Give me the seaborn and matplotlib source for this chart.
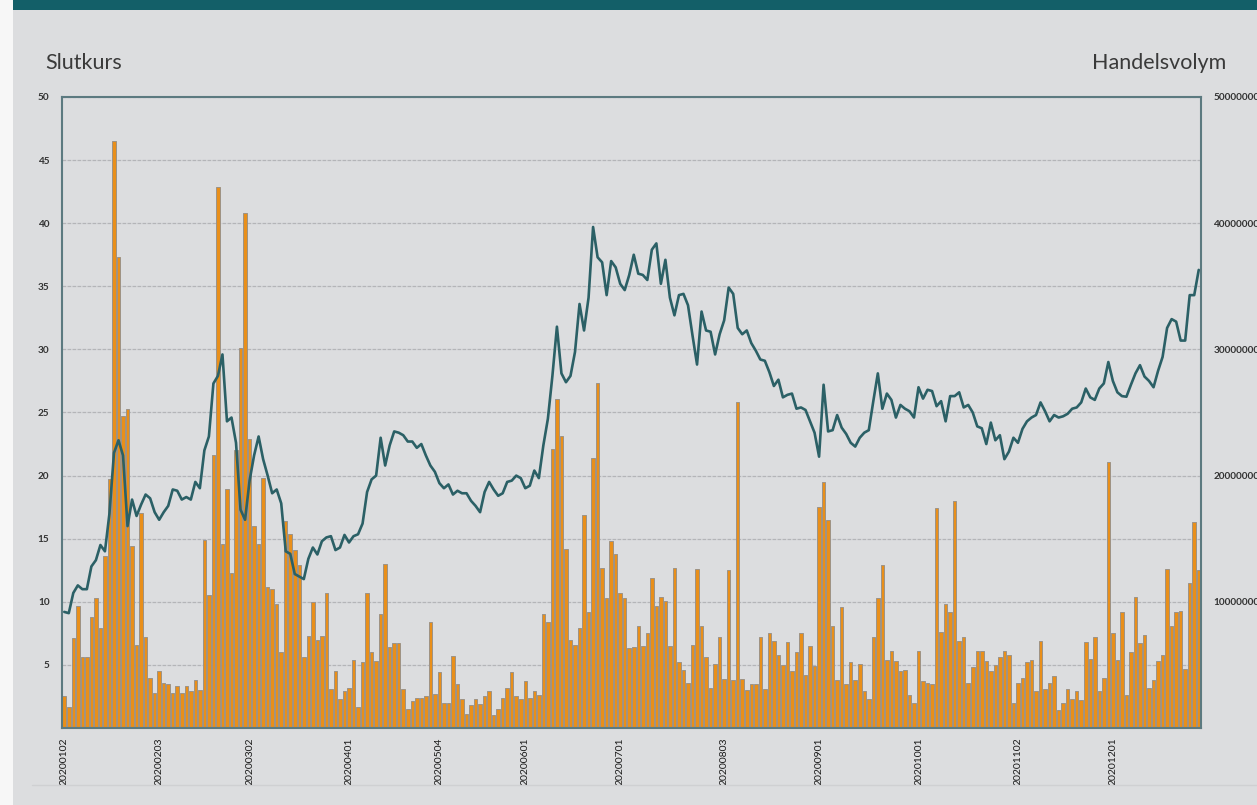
import numpy as np
import pandas as pd
import seaborn as sns
import matplotlib.pyplot as plt
from matplotlib.patches import Rectangle
from matplotlib.lines import Line2D
from matplotlib.ticker import FuncFormatter

# ==[ Data ]==============================================================
# Trading days 2020 (Stockholm), weekdays minus exchange holidays
helgdagar = ["2020-01-01", "2020-01-06", "2020-04-10", "2020-04-13", "2020-05-01",
             "2020-05-21", "2020-06-19", "2020-12-24", "2020-12-25", "2020-12-31"]
dagar = pd.bdate_range("2020-01-01", "2020-12-31").drop(pd.to_datetime(helgdagar))

# closing price, one value per trading day, month by month
slutkurs = (
    [9.2, 9.1, 10.7, 11.3, 11.0, 11.0, 12.8, 13.3, 14.5, 14.0, 17.0, 21.8, 22.8, 21.6, 16.0,
     18.1, 16.8, 17.7, 18.5, 18.2, 17.1]
    + [16.5, 17.1, 17.6, 18.9, 18.8, 18.1, 18.3, 18.1, 19.5, 19.0, 22.0, 23.1, 27.3, 27.9,
       29.6, 24.3, 24.6, 22.6, 17.3, 16.5]
    + [19.6, 21.6, 23.1, 21.3, 20.0, 18.6, 18.9, 17.8, 14.0, 13.8, 12.2, 12.0, 11.8, 13.4,
       14.3, 13.75, 14.8, 15.1, 15.2, 14.1, 14.3, 15.3]
    + [14.7, 15.2, 15.35, 16.2, 18.7, 19.7, 20.0, 23.0, 20.8, 22.4, 23.5, 23.4, 23.2, 22.7,
       22.7, 22.2, 22.5, 21.6, 20.8, 20.3]
    + [19.4, 19.0, 19.3, 18.5, 18.8, 18.6, 18.6, 18.0, 17.6, 17.1, 18.7, 19.5, 18.9, 18.4,
       18.6, 19.5, 19.6, 20.0, 19.8]
    + [19.0, 19.2, 20.4, 19.8, 22.4, 24.5, 27.9, 31.8, 28.1, 27.4, 27.9, 29.8, 33.6, 31.5,
       34.1, 39.7, 37.3, 36.9, 34.3, 37.0, 36.5]
    + [35.2, 34.7, 35.9, 37.5, 36.0, 35.9, 35.5, 37.9, 38.4, 35.2, 37.1, 34.1, 32.7, 34.3,
       34.4, 33.5, 31.1, 28.8, 33.0, 31.5, 31.4, 29.6, 31.2]
    + [32.3, 34.9, 34.4, 31.7, 31.2, 31.5, 30.5, 29.9, 29.2, 29.1, 28.2, 27.1, 27.6, 26.2,
       26.4, 26.5, 25.3, 25.4, 25.2, 24.3, 23.4]
    + [21.5, 27.2, 23.5, 23.6, 24.8, 23.8, 23.3, 22.6, 22.3, 23.0, 23.4, 23.6, 25.9, 28.1,
       25.3, 26.5, 26.0, 24.6, 25.6, 25.3, 25.1, 24.6]
    + [27.0, 26.1, 26.8, 26.7, 25.5, 25.9, 24.3, 26.3, 26.3, 26.6, 25.4, 25.6, 25.0, 23.9,
       23.75, 22.5, 24.2, 22.8, 23.2, 21.3, 21.9, 23.0]
    + [22.6, 23.7, 24.3, 24.6, 24.8, 25.8, 25.1, 24.3, 24.8, 24.6, 24.7, 24.9, 25.3, 25.4,
       25.8, 26.9, 26.2, 26.0, 26.9, 27.3, 29.0]
    + [27.5, 26.6, 26.3, 26.25, 27.2, 28.1, 28.75, 27.85, 27.5, 27.0, 28.3, 29.4, 31.7, 32.4,
       32.2, 30.7, 30.7, 34.3, 34.3, 36.3]
)

# traded volume in millions of shares
volym_milj = (
    [2.5, 1.7, 7.1, 9.7, 5.6, 5.6, 8.8, 10.3, 7.9, 13.6, 19.7, 46.5, 37.3, 24.7, 25.3, 14.4,
     6.6, 17.0, 7.2, 4.0, 2.8]
    + [4.5, 3.6, 3.5, 2.8, 3.3, 2.8, 3.3, 2.9, 3.8, 3.0, 14.9, 10.5, 21.6, 42.9, 14.6, 18.9,
       12.3, 22.0, 30.1, 40.8]
    + [22.9, 16.0, 14.6, 19.8, 11.2, 11.0, 9.8, 6.0, 16.4, 15.4, 14.1, 12.9, 5.6, 7.3, 10.0,
       7.0, 7.3, 10.7, 3.1, 4.5, 2.3, 2.9]
    + [3.2, 5.4, 1.7, 5.2, 10.7, 6.0, 5.3, 9.0, 13.0, 6.4, 6.7, 6.7, 3.1, 1.5, 2.1, 2.4, 2.4,
       2.5, 8.4, 2.7]
    + [4.4, 2.0, 2.0, 5.7, 3.5, 2.3, 1.1, 1.8, 2.3, 1.9, 2.5, 2.9, 1.0, 1.5, 2.4, 3.2, 4.4,
       2.5, 2.3]
    + [3.7, 2.4, 2.9, 2.6, 9.0, 8.4, 22.1, 26.1, 23.1, 14.2, 7.0, 6.6, 7.9, 16.9, 9.2, 21.4,
       27.3, 12.7, 10.3, 14.8, 13.8]
    + [10.7, 10.3, 6.3, 6.4, 8.1, 6.5, 7.5, 11.9, 9.7, 10.4, 10.1, 6.5, 12.7, 5.2, 4.6, 3.6,
       6.6, 12.6, 8.1, 5.6, 3.2, 5.1, 7.2]
    + [3.9, 12.5, 3.8, 25.8, 3.9, 3.0, 3.5, 3.5, 7.2, 3.1, 7.5, 6.9, 5.8, 5.0, 6.8, 4.5, 6.0,
       7.5, 4.2, 6.5, 4.9]
    + [17.5, 19.5, 16.5, 8.1, 3.8, 9.6, 3.5, 5.2, 3.8, 5.1, 2.9, 2.3, 7.2, 10.3, 12.9, 5.4,
       6.1, 5.3, 4.5, 4.6, 2.6, 2.0]
    + [6.1, 3.7, 3.6, 3.5, 17.4, 7.6, 9.8, 9.2, 18.0, 6.9, 7.2, 3.6, 4.8, 6.1, 6.1, 5.3, 4.5,
       5.0, 5.6, 6.1, 5.8, 2.0]
    + [3.6, 4.0, 5.2, 5.4, 2.9, 6.9, 3.1, 3.6, 4.1, 1.4, 2.0, 3.1, 2.3, 2.9, 2.2, 6.8, 5.5,
       7.2, 2.9, 4.0, 21.1]
    + [7.5, 5.4, 9.2, 2.6, 6.0, 10.4, 6.7, 7.4, 3.2, 3.8, 5.3, 5.8, 12.6, 8.1, 9.2, 9.3, 4.7,
       11.5, 16.3, 12.5]
)

kurs_ticks = [5, 10, 15, 20, 25, 30, 35, 40, 45, 50]
volym_ticks = [10000000, 20000000, 30000000, 40000000, 50000000]

df = pd.DataFrame({
    "dag": dagar.strftime("%Y%m%d"),
    "slutkurs": slutkurs,
    "volym": np.array(volym_milj) * 1e6,
})

# first trading day of each month -> x tick
manad = dagar.month
tick_pos = [i for i in range(len(dagar)) if i == 0 or manad[i] != manad[i - 1]]
tick_lab = [df["dag"][i] for i in tick_pos]

# ==[ Style ]=============================================================
BG = "#dcdddf"
BANNER = "#135f68"
ORANGE = "#e98f1a"
EDGE = "#9d9285"
LINE = "#2b6066"
SPINE = "#5c7a80"
GRID = "#b4b5b8"

sns.set_style("white", {"axes.facecolor": BG, "figure.facecolor": BG})
plt.rcParams["font.family"] = ["Lato", "DejaVu Sans"]

W, H = 1257, 805
fig = plt.figure(figsize=(W / 100, H / 100), dpi=100, facecolor=BG)
ax = fig.add_axes([62 / W, 1 - 728 / H, (1201 - 62) / W, (728 - 97) / H])
axv = ax.twinx()

# --< bars: volume on the right axis >--
sns.barplot(data=df, x="dag", y="volym", ax=axv, color=ORANGE, saturation=1,
            edgecolor=EDGE, linewidth=0.7, width=0.78, errorbar=None)

# --< line: closing price on the left axis >--
sns.lineplot(x=np.arange(len(df)), y=df["slutkurs"], ax=ax, color=LINE, linewidth=1.9)

ax.set_zorder(axv.get_zorder() + 1)
ax.patch.set_visible(False)

ax.set_xlim(-0.5, len(df) - 0.5)
ax.set_ylim(0, 50)
axv.set_ylim(0, 50000000)

ax.set_yticks(kurs_ticks)
ax.set_yticklabels([str(t) for t in kurs_ticks])
axv.set_yticks(volym_ticks)
axv.set_yticks(np.arange(5000000, 50000000, 10000000), minor=True)
axv.yaxis.set_major_formatter(FuncFormatter(lambda v, _: f"{int(v)}"))
axv.grid(True, axis="y", which="both", color=GRID, linewidth=0.9, linestyle=(0, (3, 1)))
axv.set_axisbelow(True)

ax.set_xticks(tick_pos)
ax.set_xticklabels(tick_lab, rotation=90)

for a in (ax, axv):
    a.set_xlabel("")
    a.set_ylabel("")
ax.tick_params(axis="y", length=0, pad=9, labelsize=7.2, labelcolor="#333333")
axv.tick_params(axis="y", which="both", length=0, pad=9, labelsize=7.2, labelcolor="#333333")
for lab in ax.get_yticklabels() + axv.get_yticklabels():
    lab.set_fontweight("bold")
ax.tick_params(axis="x", length=0, pad=7, labelsize=7.5, labelcolor="#1a1a1a")

for s in ax.spines.values():
    s.set_visible(True)
    s.set_color(SPINE)
    s.set_linewidth(1.5)
for s in axv.spines.values():
    s.set_visible(False)

# --< titles, banner, frame >--
fig.text(45 / W, 1 - 63 / H, "Slutkurs", ha="left", va="center", fontsize=15.5,
         fontweight="normal", color="#3a3a3a")
fig.text(1226 / W, 1 - 63 / H, "Handelsvolym", ha="right", va="center", fontsize=15.5,
         fontweight="normal", color="#3a3a3a")

fig.add_artist(Rectangle((0, 0), 13 / W, 1, transform=fig.transFigure,
                         facecolor="#f7f7f7", edgecolor="none"))
fig.add_artist(Rectangle((13 / W, 1 - 10 / H), 1, 10 / H, transform=fig.transFigure,
                         facecolor=BANNER, edgecolor="none"))
fig.add_artist(Line2D([32 / W, 1], [1 - 785 / H, 1 - 785 / H], transform=fig.transFigure,
                      color="#cfd0d2", linewidth=1))

fig.savefig("out.png", dpi=100, facecolor=BG)
